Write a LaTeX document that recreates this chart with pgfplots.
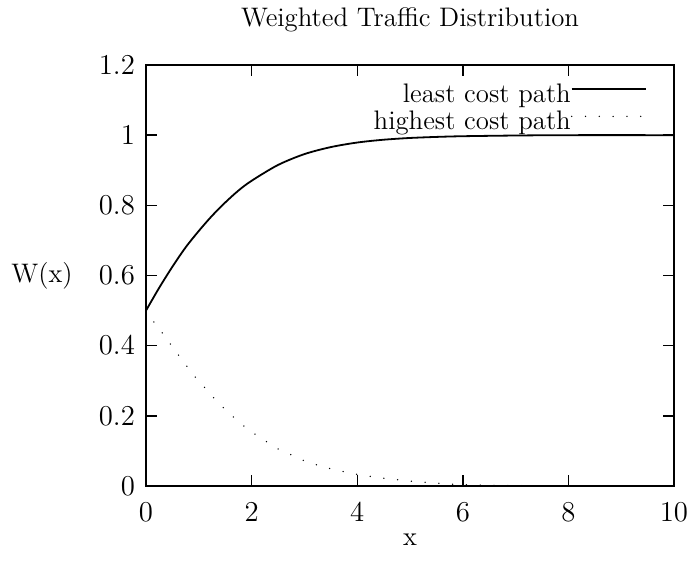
\documentclass[border=0pt]{standalone}
\usepackage{pgfplots}
\pgfplotsset{compat=1.18}
\pgfplotstableread{
x y
0 0.5
0.25 0.565
0.5 0.625
0.75 0.68
1.0 0.727
1.25 0.77
1.5 0.808
1.75 0.842
2.0 0.87
2.5 0.915
3.0 0.946
3.5 0.966
4.0 0.979
4.5 0.987
5.0 0.992
5.5 0.995
6.0 0.997
7.0 0.999
8.0 1.0
10.0 1.0
}\leastdata
\pgfplotstableread{
x y
0 0.5
0.126 0.472
0.284 0.441
0.435 0.410
0.580 0.380
0.732 0.350
0.883 0.319
1.054 0.291
1.218 0.262
1.388 0.235
1.571 0.208
1.76 0.183
1.95 0.159
2.164 0.139
2.372 0.117
2.587 0.099
2.82 0.085
3.041 0.069
3.287 0.058
3.533 0.048
3.773 0.040
4.006 0.033
4.26 0.027
4.52 0.022
4.76 0.018
5.0 0.014
5.5 0.008
6.0 0.004
7.0 0.001
8.0 0.0
10.0 0.0
}\highdata
\begin{document}
\begin{tikzpicture}[font=\fontsize{13.4}{16}\selectfont]
\begin{axis}[
  at={(0,0)}, anchor=south west,
  scale only axis, width=264pt, height=210.5pt,
  xmin=0, xmax=10, ymin=0, ymax=1.2,
  xtick={0,2,4,6,8,10},
  ytick={0,0.2,0.4,0.6,0.8,1,1.2},
  /pgf/number format/fixed,
  tick align=inside,
  major tick length=5.5pt,
  axis line style={line width=0.8pt},
  every tick/.style={line width=0.7pt, black},
  xticklabel style={yshift=-5pt},
  yticklabel style={xshift=-2pt},
  title={Weighted Traffic Distribution},
  every axis title shift=0pt,
  title style={at={(axis description cs:0.5,1.107)}, anchor=center},
  xlabel={x},
  xlabel style={at={(axis description cs:0.5,-0.128)}, anchor=center},
  ylabel={W(x)},
  ylabel style={at={(axis description cs:-0.197,0.5)}, rotate=-90, anchor=center},
  legend cell align=right,
  legend plot pos=right,
  legend image code/.code={\draw[#1] (0pt,3pt) -- (37pt,3pt);},
  legend style={draw=none, fill=none, inner sep=0pt,
    at={(axis description cs:1,1)}, anchor=north east,
    xshift=-13.5pt, yshift=-9pt, row sep=1.5pt,
    nodes={inner sep=0pt, text height=9.5pt, text depth=2.5pt},
    /tikz/every even column/.append style={column sep=2pt}},
]
\addplot[black, line width=0.9pt, smooth] table[x=x,y=y] {\leastdata};
\addlegendentry{least cost path}
\addplot[black, line width=0.75pt, line cap=round, dash pattern=on 0pt off 6.9pt, smooth] table[x=x,y=y] {\highdata};
\addlegendentry{highest cost path}
\end{axis}
\pgfresetboundingbox
\path[use as bounding box] (-73pt,-38pt) rectangle (271.5pt,243pt);
\end{tikzpicture}
\end{document}
